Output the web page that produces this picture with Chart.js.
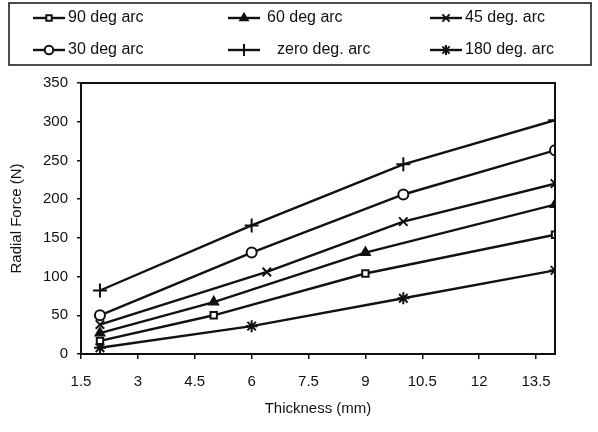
<!DOCTYPE html>
<html>
<head>
<meta charset="utf-8">
<script src="https://cdn.jsdelivr.net/npm/chart.js@4.4.1/dist/chart.umd.min.js"></script>
<style>
  html, body { margin: 0; padding: 0; background: #fff; }
  #wrap { width: 598px; height: 432px; position: relative; }
</style>
</head>
<body>
<div id="wrap"><canvas id="chart" width="598" height="432"></canvas></div>
<script>
// ─ data
const seriesLabels = ['90 deg arc', '60 deg arc', '45 deg. arc', '30 deg arc', 'zero deg. arc', '180 deg. arc'];
const thick90 = [2, 5, 9, 14];
const force90 = [17, 50, 104, 154];
const thick60 = [2, 5, 9, 14];
const force60 = [27, 67, 131, 193];
const thick45 = [2, 6.4, 10, 14];
const force45 = [38, 106, 171, 220];
const thick30 = [2, 6, 10, 14];
const force30 = [50, 131, 206, 263];
const thick0 = [2, 6, 10, 14];
const force0 = [82, 166, 245, 302];
const thick180 = [2, 6, 10, 14];
const force180 = [8, 36, 72, 108];
const xTicks = [1.5, 3, 4.5, 6, 7.5, 9, 10.5, 12, 13.5];
const yTicks = [0, 50, 100, 150, 200, 250, 300, 350];

const markerStyles = ['rect', 'triangle', 'crossRot', 'circle', 'cross', 'star'];
const markerFills = ['#fff', '#111', '#111', '#fff', '#111', '#111'];
const markerSizes = [4.5, 5, 6, 5, 7, 6];

const FONT = '"Liberation Sans", Arial, sans-serif';
const INK = '#111';

const toPts = (xs, ys) => xs.map((x, i) => ({ x, y: ys[i] }));
const pointSets = [
    toPts(thick90, force90),
    toPts(thick60, force60),
    toPts(thick45, force45),
    toPts(thick30, force30),
    toPts(thick0, force0),
    toPts(thick180, force180)
];

const datasets = pointSets.map((data, i) => ({
    label: seriesLabels[i],
    data,
    borderColor: INK,
    borderWidth: 2.4,
    pointStyle: markerStyles[i],
    pointRadius: markerSizes[i],
    pointBorderColor: INK,
    pointBorderWidth: 2,
    pointBackgroundColor: markerFills[i],
    tension: 0,
    fill: false
}));

// ─ frame round the plot area
const frame = {
    id: 'frame',
    afterDatasetsDraw(chart) {
        const { ctx, chartArea: a } = chart;
        ctx.save();
        ctx.strokeStyle = INK;
        ctx.lineWidth = 2;
        ctx.strokeRect(a.left, a.top, a.right - a.left, a.bottom - a.top);
        ctx.restore();
    }
};

// ─ boxed legend, 3 columns x 2 rows
const boxLegend = {
    id: 'boxLegend',
    afterDraw(chart) {
        const { ctx } = chart;
        const cols = [33, 228, 430];
        const rows = [18, 50];
        const textX = [[68, 267, 465], [68, 277, 465]];
        ctx.save();
        ctx.strokeStyle = INK;
        ctx.lineWidth = 1.5;
        ctx.strokeRect(9, 3, 582, 62);
        ctx.font = '16px ' + FONT;
        ctx.textBaseline = 'middle';
        chart.data.datasets.forEach((ds, i) => {
            const r = i < 3 ? 0 : 1;
            const c = i % 3;
            const x0 = cols[c], y = rows[r];
            ctx.strokeStyle = INK;
            ctx.lineWidth = 2.4;
            ctx.beginPath();
            ctx.moveTo(x0, y);
            ctx.lineTo(x0 + 32, y);
            ctx.stroke();
            ctx.fillStyle = ds.pointBackgroundColor;
            ctx.lineWidth = 2;
            Chart.helpers.drawPoint(ctx, {
                pointStyle: ds.pointStyle,
                radius: ds.pointRadius * 0.85,
                rotation: 0,
                borderWidth: 2
            }, x0 + 16, y);
            ctx.fillStyle = INK;
            ctx.fillText(ds.label, textX[r][c], y);
        });
        ctx.restore();
    }
};

// ─ draw
document.addEventListener('DOMContentLoaded', () => {
    const ctx = document.getElementById('chart').getContext('2d');
    new Chart(ctx, {
        type: 'line',
        data: { datasets },
        plugins: [frame, boxLegend],
        options: {
            responsive: false,
            animation: false,
            layout: { padding: { top: 83, right: 43, left: 4, bottom: 10 } },
            plugins: { legend: { display: false }, tooltip: { enabled: false } },
            scales: {
                x: {
                    type: 'linear',
                    min: 1.5,
                    max: 14,
                    afterBuildTicks: s => { s.ticks = xTicks.map(v => ({ value: v })); },
                    afterFit: s => { s.height = 432 - 354 - 10; },
                    ticks: { color: INK, font: { family: FONT, size: 15 }, padding: 14, maxRotation: 0 },
                    grid: { drawOnChartArea: false, drawTicks: true, tickLength: 5, color: INK, lineWidth: 1.5 },
                    border: { color: INK, width: 2 },
                    title: { display: true, text: 'Thickness (mm)', color: INK, font: { family: FONT, size: 15 }, padding: { top: 6 } }
                },
                y: {
                    type: 'linear',
                    min: 0,
                    max: 350,
                    afterBuildTicks: s => { s.ticks = yTicks.map(v => ({ value: v })); },
                    afterFit: s => { s.width = 77; },
                    ticks: { color: INK, font: { family: FONT, size: 15 }, padding: 9 },
                    grid: { drawOnChartArea: false, drawTicks: true, tickLength: 4, color: INK, lineWidth: 1.5 },
                    border: { color: INK, width: 2 },
                    title: { display: true, text: 'Radial Force (N)', color: INK, font: { family: FONT, size: 15 }, padding: { bottom: 0 } }
                }
            }
        }
    });
});
</script>
</body>
</html>
